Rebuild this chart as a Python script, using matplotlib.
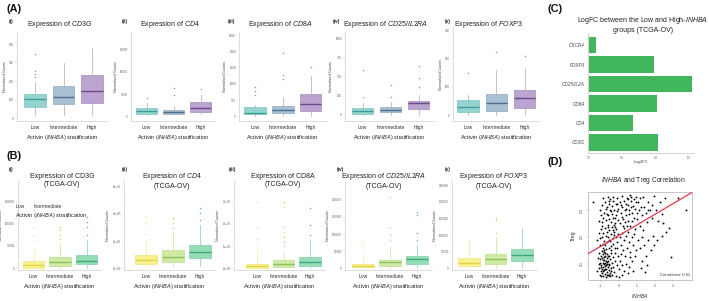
import matplotlib
matplotlib.use("Agg")
import matplotlib.pyplot as plt
import numpy as np

plt.rcParams['font.family'] = ['Liberation Sans', 'DejaVu Sans']
plt.rcParams['mathtext.fontset'] = 'custom'
plt.rcParams['mathtext.rm'] = 'Liberation Sans'
plt.rcParams['mathtext.it'] = 'Liberation Sans:italic'
plt.rcParams['mathtext.bf'] = 'Liberation Sans:bold'

# ---------------- data ----------------
groups = ["Low", "Intermediate", "High"]

# box stats per group: (whisker low, Q1, median, Q3, whisker high)
a_cd3g_box = [(18, 59, 104, 130, 198), (18, 77, 113, 175, 297), (18, 84, 149, 234, 378)]
a_cd3g_fliers = [[222, 238, 258, 350], [], []]
a_cd4_box = [(378, 533, 1267, 2000, 2978), (533, 667, 1111, 1489, 2444), (533, 978, 1867, 3200, 4822)]
a_cd4_fliers = [[4222], [4822, 6300], [6155]]
a_cd8a_box = [(22, 74, 105, 279, 353), (22, 93, 207, 331, 589), (22, 177, 384, 694, 1239)]
a_cd8a_fliers = [[641, 765, 898], [1137, 1282, 1952], [1518]]
a_cd25_box = [(0, 13, 53, 88, 154), (0, 35, 66, 109, 167), (0, 79, 154, 184, 263)]
a_cd25_fliers = [[241, 592], [241, 395], [373, 482, 649]]
a_foxp3_box = [(0, 9.5, 29, 53, 71), (0, 14, 41, 75, 159), (0, 24, 61, 88, 165)]
a_foxp3_fliers = [[147], [224], [210]]

b_cd3g_box = [(0, 1300, 7400, 16300, 38000), (0, 5100, 14800, 26000, 55800), (500, 9600, 17000, 29000, 63200)]
b_cd3g_fliers = [[60000, 75000, 90000, 110000, 130000, 150000], [64700, 74300, 85500, 91500],
                 [74300, 92900, 104000, 113800]]
b_cd4_box = [(10000, 31600, 61000, 97800, 200000), (15000, 48500, 85300, 134600, 269000),
             (20000, 73500, 117600, 171000, 318000)]
b_cd4_fliers = [[250000, 290000, 330000, 380000], [300000, 330000, 360000, 380000], [355000, 404000, 445000]]
b_cd8a_box = [(0, 2700, 10400, 19400, 82400), (0, 7200, 19400, 37400, 67600), (0, 11700, 27000, 49500, 127000)]
b_cd8a_fliers = [[100000, 130000, 180000, 300000],
                 [100000, 120000, 142000, 165000, 187000, 277000, 300000],
                 [150000, 195000, 270000]]
b_cd25_box = [(0, 2900, 6700, 12600, 38900), (0, 7600, 18400, 24300, 63200), (0, 12600, 27200, 36000, 68100)]
b_cd25_fliers = [[55000, 70000, 82000], [82700, 97400, 121600, 209000], [82700, 102000, 156000, 165000]]
b_foxp3_box = [(0, 6900, 16900, 30100, 85200), (0, 13000, 27100, 42200, 95200), (2000, 22900, 41000, 58100, 120000)]
b_foxp3_fliers = [[], [105000, 145000, 153000], []]

c_genes = ["CXCR4", "FOXP3", "CD25/IL2A", "CD8A", "CD4", "CD3G"]
c_logfc = [0.105, 0.98, 1.54, 1.015, 0.665, 1.04]

d_points = [
    (-1.40, 0.330), (-1.05, 0.300), (-0.95, 0.318), (-0.88, 0.345), (-0.80, 0.290), (-0.75, 0.330), (-0.70, 0.262),
    (-0.66, 0.310), (-0.62, 0.350), (-0.58, 0.280), (-0.55, 0.322), (-0.50, 0.300), (-0.47, 0.340), (-0.45, 0.255),
    (-0.40, 0.315), (-0.37, 0.285), (-0.33, 0.270), (-0.30, 0.332), (-0.26, 0.300), (-0.22, 0.250), (-0.18, 0.322),
    (-0.15, 0.282), (-0.10, 0.345), (-0.06, 0.262), (-0.03, 0.305), (-0.85, 0.270), (-0.92, 0.255), (-0.72, 0.305),
    (-0.60, 0.245), (-0.52, 0.268), (-0.42, 0.295), (-0.35, 0.348), (-0.28, 0.245), (-0.12, 0.295), (-1.10, 0.260),
    (-0.98, 0.282), (-0.68, 0.285), (-0.56, 0.335), (-0.20, 0.270), (-0.08, 0.322),
    (0.05, 0.330), (0.10, 0.290), (0.15, 0.352), (0.20, 0.310), (0.25, 0.265), (0.30, 0.335), (0.35, 0.300),
    (0.40, 0.280), (0.45, 0.345), (0.50, 0.318), (0.55, 0.300), (0.60, 0.355), (0.65, 0.332), (0.69, 0.350),
    (0.72, 0.290), (0.78, 0.315), (0.82, 0.340), (0.85, 0.272), (0.90, 0.305), (0.95, 0.330), (0.08, 0.250),
    (0.18, 0.275), (0.28, 0.235), (0.38, 0.322), (0.48, 0.260), (0.58, 0.285), (0.62, 0.240), (0.75, 0.260),
    (0.88, 0.228), (0.98, 0.290), (0.12, 0.318), (0.42, 0.305), (0.68, 0.310), (0.92, 0.350), (0.52, 0.340),
    (0.32, 0.255),
    (1.05, 0.330), (1.10, 0.300), (1.18, 0.345), (1.25, 0.280), (1.33, 0.350), (1.40, 0.312), (1.48, 0.290),
    (1.55, 0.255), (1.62, 0.330), (1.70, 0.300), (1.80, 0.270), (1.92, 0.352), (1.15, 0.240), (1.35, 0.225),
    (1.58, 0.300), (1.85, 0.318), (1.02, 0.265), (1.22, 0.310),
    (2.05, 0.300), (2.15, 0.260), (2.25, 0.330), (2.40, 0.285), (2.52, 0.345), (2.60, 0.220), (2.35, 0.205),
    (2.78, 0.235), (2.10, 0.190), (2.45, 0.250),
    (3.26, 0.345), (3.72, 0.300), (2.87, 0.125),
    (-1.20, 0.190), (-1.10, 0.215), (-1.02, 0.170), (-0.98, 0.230), (-0.93, 0.200), (-0.90, 0.160), (-0.86, 0.215),
    (-0.82, 0.185), (-0.78, 0.235), (-0.75, 0.170), (-0.72, 0.205), (-0.68, 0.220), (-0.64, 0.180), (-0.60, 0.198),
    (-0.57, 0.158), (-0.53, 0.225), (-0.49, 0.185), (-0.45, 0.210), (-0.41, 0.168), (-0.38, 0.238), (-0.34, 0.195),
    (-0.30, 0.175), (-0.25, 0.220), (-0.21, 0.160), (-0.17, 0.200), (-0.13, 0.230), (-0.09, 0.182), (-0.05, 0.210),
    (-1.05, 0.195), (-0.88, 0.175), (-0.70, 0.155), (-0.62, 0.238), (-0.46, 0.152), (-0.28, 0.208), (-0.11, 0.158),
    (-0.95, 0.240), (-0.80, 0.152), (-0.55, 0.190), (-0.35, 0.225), (-0.19, 0.238),
    (0.05, 0.200), (0.12, 0.170), (0.18, 0.215), (0.25, 0.150), (0.30, 0.190), (0.38, 0.205), (0.44, 0.160),
    (0.50, 0.220), (0.56, 0.180), (0.62, 0.145), (0.70, 0.198), (0.78, 0.170), (0.85, 0.210), (0.92, 0.150),
    (0.10, 0.135), (0.35, 0.128), (0.60, 0.125), (0.88, 0.130), (0.45, 0.240), (0.22, 0.240),
    (1.05, 0.190), (1.15, 0.160), (1.28, 0.200), (1.40, 0.170), (1.50, 0.130), (1.62, 0.190), (1.75, 0.150),
    (1.88, 0.205), (1.30, 0.110), (1.55, 0.095), (1.20, 0.085), (1.45, 0.070), (1.92, 0.170),
    (-1.15, 0.120), (-1.10, 0.085), (-1.08, 0.140), (-1.05, 0.060), (-1.02, 0.105), (-1.00, 0.130), (-0.98, 0.075),
    (-0.96, 0.095), (-0.94, 0.148), (-0.92, 0.065), (-0.90, 0.115), (-0.88, 0.088), (-0.86, 0.135), (-0.85, 0.055),
    (-0.83, 0.100), (-0.81, 0.078), (-0.80, 0.125), (-0.78, 0.092), (-0.76, 0.062), (-0.75, 0.142), (-0.73, 0.110),
    (-0.71, 0.082), (-0.70, 0.050), (-0.68, 0.120), (-0.66, 0.098), (-0.65, 0.070), (-0.63, 0.138), (-0.61, 0.088),
    (-0.60, 0.058), (-0.58, 0.112), (-0.56, 0.078), (-0.54, 0.130), (-0.52, 0.095), (-0.50, 0.065), (-0.48, 0.118),
    (-0.46, 0.085), (-0.44, 0.140), (-0.42, 0.072), (-0.40, 0.105), (-1.12, 0.100), (-1.00, 0.090), (-0.95, 0.120),
    (-0.89, 0.072), (-0.84, 0.115), (-0.79, 0.105), (-0.74, 0.080), (-0.69, 0.095), (-0.64, 0.108), (-0.59, 0.130),
    (-0.55, 0.060), (-0.97, 0.055), (-0.87, 0.102), (-0.77, 0.130), (-0.67, 0.060), (-0.57, 0.100), (-0.47, 0.055),
    (-1.18, 0.075), (-1.06, 0.118), (-0.93, 0.082), (-0.82, 0.145),
    (-0.35, 0.090), (-0.30, 0.125), (-0.25, 0.070), (-0.20, 0.110), (-0.15, 0.055), (-0.10, 0.095), (-0.05, 0.130),
    (0.00, 0.080), (0.08, 0.110), (0.15, 0.060), (0.20, 0.095), (0.28, 0.075), (0.40, 0.100), (0.50, 0.065),
    (0.58, 0.090), (0.70, 0.110), (0.80, 0.075), (-0.38, 0.060), (-0.22, 0.140), (0.02, 0.050),
]
d_fit_intercept = 0.205
d_fit_slope = 0.0398
d_correlation = 0.61

# ---------------- figure ----------------
W, H = 709, 301
fig = plt.figure(figsize=(W / 100, H / 100), dpi=100)


def fx(x):
    return x / W


def fy(y):
    return 1 - y / H


def add_ax(left, top, right, bottom):
    return fig.add_axes([fx(left), fy(bottom), (right - left) / W, (bottom - top) / H])


A_fill = ["#94d4cf", "#a9bfd2", "#bca4d0"]
A_edge = ["#7fc4bf", "#91a9be", "#a68dbf"]
A_med = ["#3e9e99", "#4c6e8f", "#6a4a8b"]
A_whisk = ["#a9a9a9", "#a9a9a9", "#a9a9a9"]
A_fl = ["#9a9a9a", "#9a9a9a", "#9a9a9a"]
B_fill = ["#f8f18f", "#cfeba3", "#97dcb9"]
B_edge = ["#efe67a", "#bde08e", "#83cfa8"]
B_med = ["#e2d54c", "#8cc25d", "#3ba77b"]
B_whisk = ["#f1ea9a", "#c5e39a", "#86d0aa"]
B_fl = ["#eee590", "#b7dc86", "#62c095"]

grey = "#cfcfcf"


def box_panel(spine_x, c0, spacing, top, bottom, ylim, yticks, yticklabels,
              stats, fliers, fill, edge, med, whisk, flc):
    xl = -(c0 - spine_x) / spacing
    xr = 2.55
    right = spine_x + (xr - xl) * spacing
    ax = add_ax(spine_x, top, right, bottom)
    bx = []
    for (lo, q1, m, q3, hi), fl, g in zip(stats, fliers, groups):
        bx.append(dict(whislo=lo, q1=q1, med=m, q3=q3, whishi=hi, fliers=fl, label=g))
    w = 21.5 / spacing
    arts = ax.bxp(bx, positions=[0, 1, 2], widths=w, showcaps=False, patch_artist=True,
                  manage_ticks=False)
    for i in range(3):
        arts['boxes'][i].set_facecolor(fill[i])
        arts['boxes'][i].set_edgecolor(edge[i])
        arts['boxes'][i].set_linewidth(0.5)
        arts['medians'][i].set_color(med[i])
        arts['medians'][i].set_linewidth(1.0)
        for wl in arts['whiskers'][2 * i:2 * i + 2]:
            wl.set_color(whisk[i])
            wl.set_linewidth(0.5)
        f = arts['fliers'][i]
        f.set_marker('o')
        f.set_markersize(1.1)
        f.set_markerfacecolor(flc[i])
        f.set_markeredgecolor(flc[i])
        f.set_markeredgewidth(0)
    ax.set_xlim(xl, xr)
    ax.set_ylim(*ylim)
    ax.set_xticks([0, 1, 2])
    ax.set_xticklabels(groups, fontsize=3.6, color="#333333")
    ax.set_yticks(yticks)
    ax.set_yticklabels(yticklabels, fontsize=2.2, color="#666666")
    ax.tick_params(axis='x', length=0, pad=3)
    ax.tick_params(axis='y', length=1.2, width=0.3, color=grey, pad=1)
    for s in ['top', 'right']:
        ax.spines[s].set_visible(False)
    for s in ['left', 'bottom']:
        ax.spines[s].set_color(grey)
        ax.spines[s].set_linewidth(0.5)
    ax.set_ylabel("Normalized Counts", fontsize=2.6, color="#444444", labelpad=1.5)
    ax.set_xlabel(r"Activin ($\mathit{INHBA}$) stratification", fontsize=4.1, color="#222222", labelpad=2)
    return ax


# Row A
A_top, A_bot = 32, 121
box_panel(17, 35, 28.5, A_top, A_bot, (-14.6, 467), [0, 100, 200, 300, 400],
          ["0", "100", "200", "300", "400"], a_cd3g_box, a_cd3g_fliers, A_fill, A_edge, A_med, A_whisk, A_fl)
box_panel(131, 146.5, 27, A_top, A_bot, (-956, 18822), [0, 5000, 10000, 15000],
          ["0", "5000", "10000", "15000"], a_cd4_box, a_cd4_fliers, A_fill, A_edge, A_med, A_whisk, A_fl)
box_panel(239, 255, 27.75, A_top, A_bot, (-146, 2593), [0, 500, 1000, 1500, 2000, 2500],
          ["0", "500", "1000", "1500", "2000", "2500"], a_cd8a_box, a_cd8a_fliers, A_fill, A_edge, A_med, A_whisk, A_fl)
box_panel(345, 362.5, 28, A_top, A_bot, (-79, 1092), [0, 250, 500, 750, 1000],
          ["0", "250", "500", "750", "1000"], a_cd25_box, a_cd25_fliers, A_fill, A_edge, A_med, A_whisk, A_fl)
box_panel(453, 468, 28.25, 27, A_bot, (-21, 311), [0, 100, 200, 300],
          ["0", "100", "200", "300"], a_foxp3_box, a_foxp3_fliers, A_fill, A_edge, A_med, A_whisk, A_fl)

# Row B
B_top, B_bot = 181, 270
box_panel(18, 33.5, 26.5, B_top, B_bot, (-3800, 194900), [0, 50000, 100000, 150000],
          ["0", "50000", "100000", "150000"], b_cd3g_box, b_cd3g_fliers, B_fill, B_edge, B_med, B_whisk, B_fl)
box_panel(124, 146, 27, B_top, B_bot, (-12500, 642000), [0, 2e5, 4e5, 6e5],
          ["0e+00", "2e+05", "4e+05", "6e+05"], b_cd4_box, b_cd4_fliers, B_fill, B_edge, B_med, B_whisk, B_fl)
box_panel(234, 257, 26.5, B_top, B_bot, (-7700, 393000), [0, 1e5, 2e5, 3e5],
          ["0e+00", "1e+05", "2e+05", "3e+05"], b_cd8a_box, b_cd8a_fliers, B_fill, B_edge, B_med, B_whisk, B_fl)
box_panel(345, 363, 27, B_top, B_bot, (-5000, 255000), [0, 50000, 100000, 150000, 200000],
          ["0", "50000", "100000", "150000", "200000"], b_cd25_box, b_cd25_fliers, B_fill, B_edge, B_med, B_whisk, B_fl)
box_panel(452, 469, 26.5, B_top, B_bot, (-5100, 263000), [0, 50000, 100000, 150000, 200000, 250000],
          ["0", "50000", "100000", "150000", "200000", "250000"], b_foxp3_box, b_foxp3_fliers,
          B_fill, B_edge, B_med, B_whisk, B_fl)

# Titles and panel labels
tfs = 5.0
a_titles = [(60, r"Expression of $\mathit{CD3G}$"), (170, r"Expression of $\mathit{CD4}$"),
            (280, r"Expression of $\mathit{CD8A}$"), (386, r"Expression of $\mathit{CD25/IL2RA}$"),
            (489, r"Expression of $\mathit{FOXP3}$")]
for x, t in a_titles:
    fig.text(fx(x), fy(24.5), t, ha='center', va='center', fontsize=tfs, color="#222222")
b_titles = [(62, "Expression of CD3G\n(TCGA-OV)"), (172, "Expression of $\\mathit{CD4}$\n(TCGA-OV)"),
            (283, "Expression of CD8A\n(TCGA-OV)"), (384, "Expression of $\\mathit{CD25/IL2RA}$\n(TCGA-OV)"),
            (494, "Expression of $\\mathit{FOXP3}$\n(TCGA-OV)")]
for x, t in b_titles:
    fig.text(fx(x), fy(180.5), t, ha='center', va='center', fontsize=tfs, color="#222222",
             linespacing=1.05)

roman = ["(i)", "(ii)", "(iii)", "(iv)", "(v)"]
for (x, y), r in zip([(9, 22), (122, 21), (228, 21), (333, 21), (445, 21)], roman):
    fig.text(fx(x), fy(y), r, ha='left', va='center', fontsize=3.4, fontweight='bold', color="#222222")
for (x, y), r in zip([(9, 170), (122, 170), (229, 170), (337, 170), (445, 170)], roman):
    fig.text(fx(x), fy(y), r, ha='left', va='center', fontsize=3.4, fontweight='bold', color="#222222")

for (x, y), r in zip([(6, 8.5), (6, 156), (547, 8.5), (547, 162)], ["(A)", "(B)", "(C)", "(D)"]):
    fig.text(fx(x), fy(y), r, ha='left', va='center', fontsize=7.8, fontweight='bold', color="#111111")

# stray overlapping labels in B(i)
fig.text(fx(20), fy(206), "Low", ha='center', va='center', fontsize=3.6, color="#333333")
fig.text(fx(48), fy(206), "Intermediate", ha='center', va='center', fontsize=3.6, color="#333333")
fig.text(fx(51), fy(215), r"Activin ($\mathit{INHBA}$) stratification", ha='center', va='center',
         fontsize=4.1, color="#222222")

# ---------------- C: bar chart ----------------
c_unit = 66.7
c_left = 589 - 0.02 * c_unit
c_right = 589 + 1.57 * c_unit
axc = add_ax(c_left, 33, c_right, 153)
ypos = np.arange(len(c_genes))
axc.barh(ypos, c_logfc, height=0.85, color="#41b65c")
axc.set_xlim(-0.02, 1.57)
axc.set_ylim(5.54, -0.62)
axc.set_yticks(ypos)
axc.set_yticklabels(c_genes, fontsize=3.3, style='italic', color="#444444")
axc.set_xticks([0, 0.5, 1.0, 1.5])
axc.set_xticklabels(["0.0", "0.5", "1.0", "1.5"], fontsize=2.2, color="#666666")
axc.tick_params(axis='both', length=0, pad=2)
for s in ['top', 'right']:
    axc.spines[s].set_visible(False)
for s in ['left', 'bottom']:
    axc.spines[s].set_color(grey)
    axc.spines[s].set_linewidth(0.6)
axc.set_xlabel("Log2FC", fontsize=3.0, color="#444444", labelpad=0.5)
fig.text(fx(643), fy(24.5), "LogFC between the Low and High-$\\mathit{INHBA}$\ngroups (TCGA-OV)",
         ha='center', va='center', fontsize=5.0, color="#222222", linespacing=1.05)

# ---------------- D: scatter ----------------
axd = add_ax(588, 192, 692, 280)
dx = [p[0] for p in d_points]
dy = [p[1] for p in d_points]
axd.scatter(dx, dy, s=1.8, color="black", linewidths=0, zorder=2)
axd.set_xlim(-1.7, 4.03)
axd.set_ylim(0.04, 0.367)
xx = np.array(axd.get_xlim())
axd.plot(xx, d_fit_intercept + d_fit_slope * xx, color="#e23a4e", lw=0.9, zorder=3)
axd.set_xticks([-1, 0, 1, 2, 3])
axd.set_xticklabels(["-1", "0", "1", "2", "3"], fontsize=2.6, color="#555555")
axd.set_yticks([0.1, 0.2, 0.3])
axd.set_yticklabels(["0.1", "0.2", "0.3"], fontsize=2.6, color="#555555", rotation=90, va='center')
axd.tick_params(axis='both', length=1.2, width=0.3, color="#999999", pad=1.5)
for s in axd.spines.values():
    s.set_color("#bdbdbd")
    s.set_linewidth(0.6)
axd.text(0.985, 0.03, "Correlation: %.2f" % d_correlation, transform=axd.transAxes, ha='right', va='bottom',
         fontsize=3.0, color="#333333")
axd.set_xlabel(r"$\mathit{INHBA}$", fontsize=3.8, color="#333333", labelpad=3)
axd.set_ylabel("Treg", fontsize=3.8, color="#333333", labelpad=3)
fig.text(fx(643), fy(180.5), r"$\mathit{INHBA}$ and Treg Correlation", ha='center', va='center',
         fontsize=4.8, color="#222222")

fig.savefig("out.png", dpi=100)
